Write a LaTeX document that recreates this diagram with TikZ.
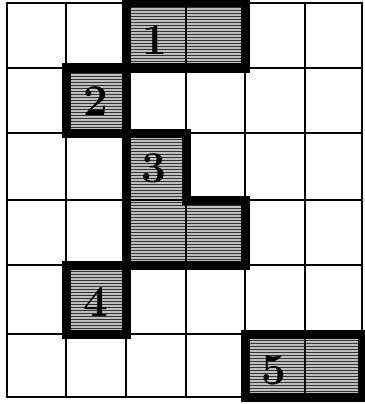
\documentclass[tikz,border=0pt]{standalone}
\usetikzlibrary{patterns}
\begin{document}
\begin{tikzpicture}[x=1pt,y=-1pt,
  shade/.style={fill=gray!50, postaction={pattern=horizontal lines, pattern color=black!80}},
  thin/.style={line width=2.6pt, line cap=round},
  thick/.style={line width=9pt, line join=miter},
  num/.style={font=\fontsize{44}{44}\selectfont\bfseries, inner sep=0pt, text=black}]
\useasboundingbox (0,0) rectangle (364,404);
% shaded regions
\fill[shade] (126,3) rectangle (245,68);
\fill[shade] (66,68) rectangle (126,133);
\fill[shade] (126,133) -- (186,133) -- (186,200) -- (245,200) -- (245,265) -- (126,265) -- cycle;
\fill[shade] (66,265) rectangle (126,334);
\fill[shade] (245,334) rectangle (362,397);
% grid
\foreach \x in {7,66,126,186,245,305,362} \draw[thin] (\x,3) -- (\x,397);
\foreach \y in {3,68,133,200,265,334,397} \draw[thin] (7,\y) -- (362,\y);
% group outlines
\draw[thick] (126,3) rectangle (245,68);
\draw[thick] (66,68) rectangle (126,133);
\draw[thick] (126,133) -- (186,133) -- (186,200) -- (245,200) -- (245,265) -- (126,265) -- cycle;
\draw[thick] (66,265) rectangle (126,334);
\draw[thick] (245,334) rectangle (362,397);
% labels
\node[num] (n1) at (155,40) {1};
\node[num] (n2) at (96,101) {2};
\node[num] (n3) at (154,168) {3};
\node[num] (n4) at (96,302) {4};
\node[num] (n5) at (274,370) {5};
\end{tikzpicture}
\end{document}
